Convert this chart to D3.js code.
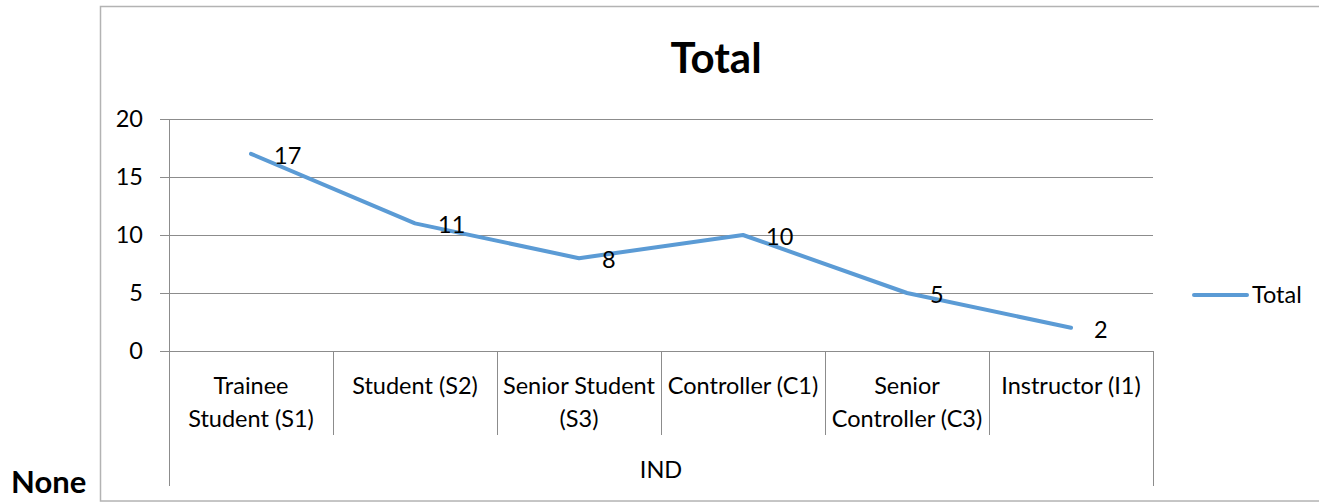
<!DOCTYPE html>
<html>
<head>
<meta charset="utf-8">
<script src="https://cdn.jsdelivr.net/npm/d3@7"></script>
<style>
  body { margin: 0; background: #fff; }
  svg text { font-family: Lato, "Open Sans", sans-serif; fill: #000; }
</style>
</head>
<body>
<svg id="chart" width="1319" height="504"></svg>
<script>
// chart data
var categories = ["Trainee\nStudent (S1)", "Student (S2)", "Senior Student\n(S3)",
                  "Controller (C1)", "Senior\nController (C3)", "Instructor (I1)"];
var totals = [17, 11, 8, 10, 5, 2];
var yTicks = [0, 5, 10, 15, 20];
var groupName = "IND";
var seriesName = "Total";

var svg = d3.select("#chart");
var plot = { left: 169, right: 1153, top: 119, bottom: 351 };
var gridColor = "#8c8c8c", lineColor = "#5b9bd5";

// outer chart frame
svg.append("rect")
    .attr("x", 100.5).attr("y", 6.5)
    .attr("width", 1240).attr("height", 494.5)
    .attr("fill", "none").attr("stroke", "#b3b3b3").attr("stroke-width", 1.5);

svg.append("text")
    .attr("x", 11).attr("y", 493)
    .attr("font-size", 31).attr("font-weight", "bold")
    .text("None");

svg.append("text")
    .attr("x", 716).attr("y", 73)
    .attr("text-anchor", "middle")
    .attr("font-size", 42).attr("font-weight", "bold")
    .text("Total");

var x = d3.scaleBand().domain(d3.range(categories.length))
    .range([plot.left, plot.right]);
var y = d3.scaleLinear().domain([0, 20]).range([plot.bottom, plot.top]);

// horizontal gridlines + y ticks
svg.append("g").selectAll("line").data(yTicks).join("line")
    .attr("x1", 160).attr("x2", plot.right)
    .attr("y1", function(d) { return Math.round(y(d)) + 0.5; })
    .attr("y2", function(d) { return Math.round(y(d)) + 0.5; })
    .attr("stroke", gridColor).attr("stroke-width", 1);

svg.append("g").selectAll("text").data(yTicks).join("text")
    .attr("x", 143).attr("y", function(d) { return y(d); })
    .attr("dy", "0.36em")
    .attr("text-anchor", "end")
    .attr("font-size", 23.5)
    .text(function(d) { return d; });

// y axis line
svg.append("line")
    .attr("x1", plot.left + 0.5).attr("x2", plot.left + 0.5)
    .attr("y1", plot.top).attr("y2", plot.bottom)
    .attr("stroke", gridColor);

// category dividers
var bounds = d3.range(categories.length + 1);
svg.append("g").selectAll("line").data(bounds).join("line")
    .attr("x1", function(i) { return Math.round(plot.left + i * x.bandwidth()) + 0.5; })
    .attr("x2", function(i) { return Math.round(plot.left + i * x.bandwidth()) + 0.5; })
    .attr("y1", plot.bottom)
    .attr("y2", function(i) { return (i === 0 || i === categories.length) ? 486 : 435; })
    .attr("stroke", gridColor);

// category labels
var catText = svg.append("g").selectAll("text").data(categories).join("text")
    .attr("text-anchor", "middle")
    .attr("font-size", 23.5);
catText.each(function(d, i) {
    var lines = d.split("\n");
    d3.select(this).selectAll("tspan").data(lines).join("tspan")
        .attr("x", x(i) + x.bandwidth() / 2)
        .attr("y", function(l, j) { return 394 + j * 33; })
        .text(function(l) { return l; });
});

svg.append("text")
    .attr("x", (plot.left + plot.right) / 2).attr("y", 478)
    .attr("text-anchor", "middle")
    .attr("font-size", 23.5)
    .text(groupName);

// the series line
var line = d3.line()
    .x(function(d, i) { return x(i) + x.bandwidth() / 2; })
    .y(function(d) { return y(d); });

svg.append("path")
    .datum(totals)
    .attr("d", line)
    .attr("fill", "none")
    .attr("stroke", lineColor)
    .attr("stroke-width", 4)
    .attr("stroke-linecap", "round")
    .attr("stroke-linejoin", "round");

// data labels, to the right of each point
svg.append("g").selectAll("text").data(totals).join("text")
    .attr("x", function(d, i) { return x(i) + x.bandwidth() / 2 + 23; })
    .attr("y", function(d) { return y(d) + 1.5; })
    .attr("dy", "0.36em")
    .attr("font-size", 23.5)
    .text(function(d) { return d; });

// legend
svg.append("line")
    .attr("x1", 1194).attr("x2", 1247)
    .attr("y1", 295).attr("y2", 295)
    .attr("stroke", lineColor).attr("stroke-width", 4)
    .attr("stroke-linecap", "round");
svg.append("text")
    .attr("x", 1252).attr("y", 295).attr("dy", "0.36em")
    .attr("font-size", 23.5)
    .text(seriesName);
</script>
</body>
</html>
